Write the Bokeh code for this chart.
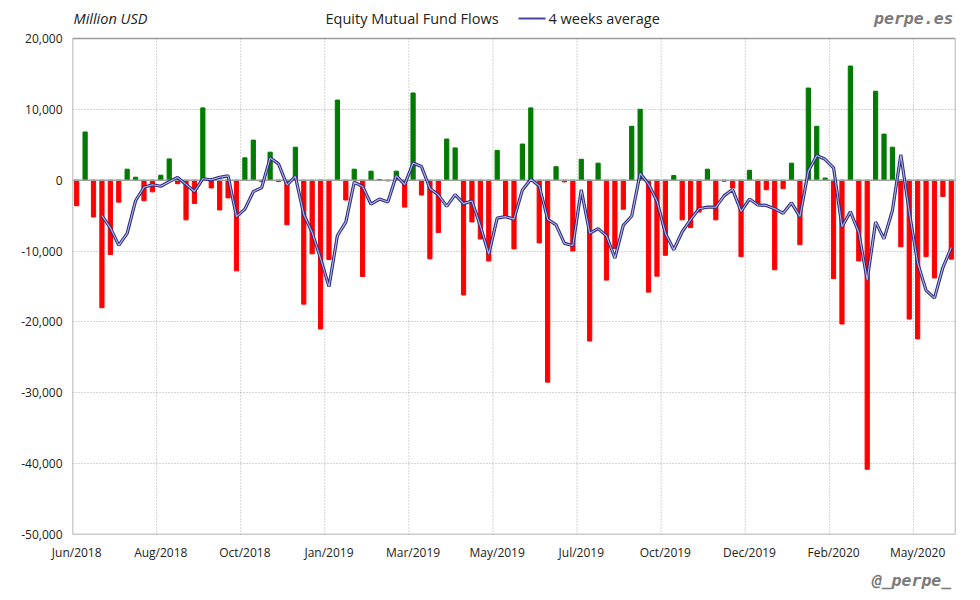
import pandas as pd
from bokeh.plotting import figure
from bokeh.models import (ColumnDataSource, FixedTicker, Range1d,
                          NumeralTickFormatter, LinearAxis)
from bokeh.core.properties import value
from bokeh.embed import file_html
from bokeh.resources import INLINE

# Weekly equity mutual fund flows, million USD
flows = [
    -3600, 6800, -5200, -18000, -10500, -3100, 1550, 420, -2900, -1650,
    700, 3000, -500, -5600, -3300, 10200, -1100, -4200, -2500, -12800,
    3150, 5650, -200, 3950, -200, -6300, 4650, -17500, -10400, -21000,
    -11200, 11300, -2800, 1550, -13600, 1270, 100, -100, 1270, -3800,
    12300, -2100, -11100, -7400, 5800, 4550, -16200, -5900, -8300, -11400,
    4200, -5100, -9700, 5100, 10200, -8850, -28500, 1900, -250, -10000,
    2950, -22700, 2400, -14100, -9650, -4100, 7600, 10000, -15800, -13550,
    -10600, 650, -5600, -6700, -4500, 1550, -5600, -150, -1100, -10800,
    1400, -3500, -1350, -12650, -1200, 2400, -9100, 13000, 7600, 300,
    -13900, -20300, 16100, -11400, -40800, 12550, 6500, 4650, -9400, -19600,
    -22400, -10800, -13800, -2300, -11150,
]
tick_labels = ["Jun/2018", "Aug/2018", "Oct/2018", "Jan/2019", "Mar/2019", "May/2019",
               "Jul/2019", "Oct/2019", "Dec/2019", "Feb/2020", "May/2020"]
y_ticks = [20000, 10000, 0, -10000, -20000, -30000, -40000, -50000]
Y_MIN, Y_MAX = -50000, 20000

n = len(flows)
xs = [i + 0.5 for i in range(n)]
avg4 = pd.Series(flows).rolling(4).mean()
colors = ["#007a00" if v >= 0 else "#ff0000" for v in flows]

bar_src = ColumnDataSource(dict(x=xs, top=flows, color=colors))
avg_src = ColumnDataSource(dict(x=xs[3:], y=list(avg4[3:])))

W, H = 972, 592
FL, FR, FB = 72, 955, 535          # frame edges (px)
T = 1                               # frame top near canvas top; header drawn inside
PLOT_TOP = 38                       # where y=20000 sits
ppu = (FB - PLOT_TOP) / (Y_MAX - Y_MIN)       # px per unit
y_top = Y_MIN + (FB - T) / ppu

p = figure(width=W, height=H, output_backend="svg", toolbar_location=None,
           x_range=Range1d(0, n), y_range=Range1d(Y_MIN, y_top),
           min_border_left=FL, min_border_right=W - FR, min_border_top=T,
           min_border_bottom=H - FB)
p.background_fill_color = "white"
p.border_fill_color = "white"
p.outline_line_color = None

def px_x(px):
    return (px - FL) * n / (FR - FL)

def px_y(py):
    return Y_MIN + (FB - py) / ppu

# grid
p.xgrid.visible = False
p.ygrid.ticker = FixedTicker(ticks=[10000, -10000, -20000, -30000, -40000])
p.ygrid.grid_line_color = "#a8a8a8"
p.ygrid.grid_line_dash = "1 2"
vgrid = [i * 10 for i in range(1, 11)]
p.segment(x0=vgrid, x1=vgrid, y0=[Y_MIN] * len(vgrid), y1=[Y_MAX] * len(vgrid),
          line_color="#a8a8a8", line_dash="1 2", line_width=1)

# plot border
p.quad(left=[0], right=[n], bottom=[Y_MIN], top=[Y_MAX], fill_color=None,
       line_color="#9a9a9a", line_width=1.5)

p.vbar(x="x", top="top", bottom=0, width=0.5, color="color", source=bar_src)
p.segment(x0=[0], x1=[n], y0=[0], y1=[0], line_color="#a0a0a0", line_width=1.5)
p.line("x", "y", source=avg_src, line_color="#2e2e80", line_width=3.2)
p.line("x", "y", source=avg_src, line_color="#b4b4e4", line_width=1.1)

# axes
p.xaxis.ticker = FixedTicker(ticks=[i * 10 + 0.5 for i in range(len(tick_labels))])
p.xaxis.major_label_overrides = {i * 10 + 0.5: lab for i, lab in enumerate(tick_labels)}
p.yaxis.ticker = FixedTicker(ticks=y_ticks)
p.yaxis.formatter = NumeralTickFormatter(format="0,0")
for ax in (p.xaxis[0], p.yaxis[0]):
    ax.axis_line_color = None
    ax.major_tick_line_color = None
    ax.minor_tick_line_color = None
    ax.major_label_text_font = "Open Sans"
    ax.major_label_text_font_size = "12px"
    ax.major_label_text_color = "#222222"
p.xaxis.major_label_standoff = 3
p.yaxis.major_label_standoff = 4

# footer signature as a second bottom axis
sig_x = px_x(911)
sig = LinearAxis(ticker=FixedTicker(ticks=[sig_x]), major_label_overrides={sig_x: "@_perpe_"},
                 axis_line_color=None, major_tick_line_color=None, minor_tick_line_color=None,
                 major_label_text_font="DejaVu Sans Mono", major_label_text_font_style="bold italic",
                 major_label_text_font_size="16.5px", major_label_text_color="#7a7a7a",
                 major_label_standoff=1)
p.add_layout(sig, "below")

# header texts
hy = px_y(18)
p.text(x=[px_x(73)], y=[hy], text=["Million USD"], text_font=value("Open Sans"),
       text_font_style="italic", text_font_size="14.5px", text_color="#222222",
       text_baseline="middle")
p.text(x=[px_x(325)], y=[hy], text=["Equity Mutual Fund Flows"], text_font=value("Open Sans"),
       text_font_size="14.5px", text_color="#222222", text_baseline="middle")
p.line([px_x(518), px_x(545)], [hy, hy], line_color="#4646a0", line_width=2)
p.text(x=[px_x(548)], y=[hy], text=["4 weeks average"], text_font=value("Open Sans"),
       text_font_size="14.5px", text_color="#222222", text_baseline="middle")
p.text(x=[px_x(953)], y=[hy], text=["perpe.es"], text_font=value("DejaVu Sans Mono"),
       text_font_style="bold italic", text_font_size="16.5px", text_color="#7a7a7a",
       text_baseline="middle", text_align="right")

open("out.html", "w").write(file_html(p, INLINE))
